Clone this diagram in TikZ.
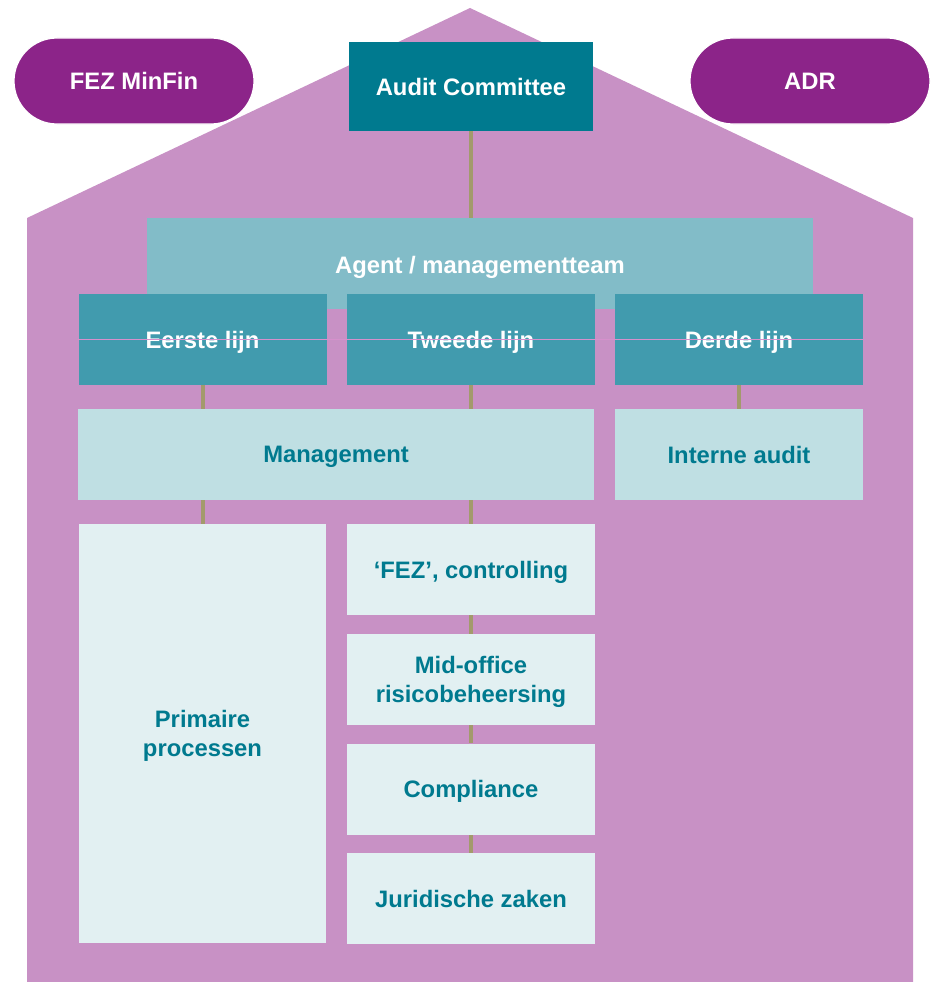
\documentclass[tikz,border=0pt]{standalone}
\usepackage{fontspec}
\setmainfont{Liberation Sans}
\usetikzlibrary{backgrounds}
\definecolor{housec}{HTML}{C891C5}
\definecolor{pillc}{HTML}{8C2489}
\definecolor{darkteal}{HTML}{007A8F}
\definecolor{agentc}{HTML}{82BCC8}
\definecolor{lijnc}{HTML}{419BAE}
\definecolor{mgmtc}{HTML}{BFDFE3}
\definecolor{lightc}{HTML}{E2F0F2}
\definecolor{linkc}{HTML}{A39A6C}
\definecolor{pinkline}{HTML}{D690CC}
\tikzset{
  base/.style={inner sep=0pt, align=center, text depth=0pt, font=\fontsize{23.8}{29.5}\selectfont\bfseries},
  pill/.style={base, fill=pillc, draw=white, line width=1.2pt, text=white, minimum width=240pt, minimum height=86pt, rounded corners=43pt},
  topbox/.style={base, fill=darkteal, text=white, minimum width=244pt, minimum height=89pt},
  agentbox/.style={base, fill=agentc, text=white, minimum width=666pt, minimum height=91pt},
  lijnbox/.style={base, fill=lijnc, text=white, minimum width=248pt, minimum height=91pt},
  mgmtbox/.style={base, fill=mgmtc, text=darkteal, minimum height=91pt},
  lightbox/.style={base, fill=lightc, text=darkteal, minimum width=248pt, minimum height=91pt},
  link/.style={draw=linkc, line width=4pt},
}
\begin{document}
\begin{tikzpicture}[x=1pt,y=-1pt]
\useasboundingbox (0,0) rectangle (934,982);
% house
\begin{scope}[on background layer]
\fill[housec] (27,982) -- (27,218) -- (470,8) -- (913,218) -- (913,982) -- cycle;
\end{scope}
% nodes
\node[pill] (fez) at (134,81) {FEZ MinFin};
\node[pill] (adr) at (810,81) {ADR};
\node[topbox] (audit) at (471,86.5) {Audit Committee};
\node[agentbox, anchor=north] (agent) at (480,218) {};
\node[base, text=white] (agenttxt) at (480,265) {Agent / managementteam};
\node[lijnbox] (eerste) at (202.5,339.5) {Eerste lijn};
\node[lijnbox] (tweede) at (471,339.5) {Tweede lijn};
\node[lijnbox] (derde) at (739,339.5) {Derde lijn};
\node[mgmtbox, minimum width=516pt] (mgmt) at (336,454.5) {Management};
\node[mgmtbox, minimum width=248pt] (interne) at (739,454.5) {Interne audit};
\node[lightbox, minimum width=247pt, minimum height=419pt] (prim) at (202.5,733.5) {Primaire\\processen};
\node[lightbox] (fezc) at (471,569.5) {‘FEZ’, controlling};
\node[lightbox] (mid) at (471,679.5) {Mid-office\\risicobeheersing};
\node[lightbox] (comp) at (471,789) {Compliance};
\node[lightbox] (jur) at (471,898.5) {Juridische zaken};
% thin line through the three lines
\draw[pinkline, line width=0.9pt] (eerste.west) -- (derde.east);
% connectors
\begin{scope}[on background layer]
\draw[link] (audit.south) -- (audit.south |- agent.north);
\draw[link] (eerste.south) -- (eerste.south |- mgmt.north);
\draw[link] (tweede.south) -- (tweede.south |- mgmt.north);
\draw[link] (derde.south) -- (interne.north);
\draw[link] (prim.north |- mgmt.south) -- (prim.north);
\draw[link] (fezc.north |- mgmt.south) -- (fezc.north);
\draw[link] (fezc.south) -- (mid.north);
\draw[link] (mid.south) -- (comp.north);
\draw[link] (comp.south) -- (jur.north);
\end{scope}
\end{tikzpicture}
\end{document}
